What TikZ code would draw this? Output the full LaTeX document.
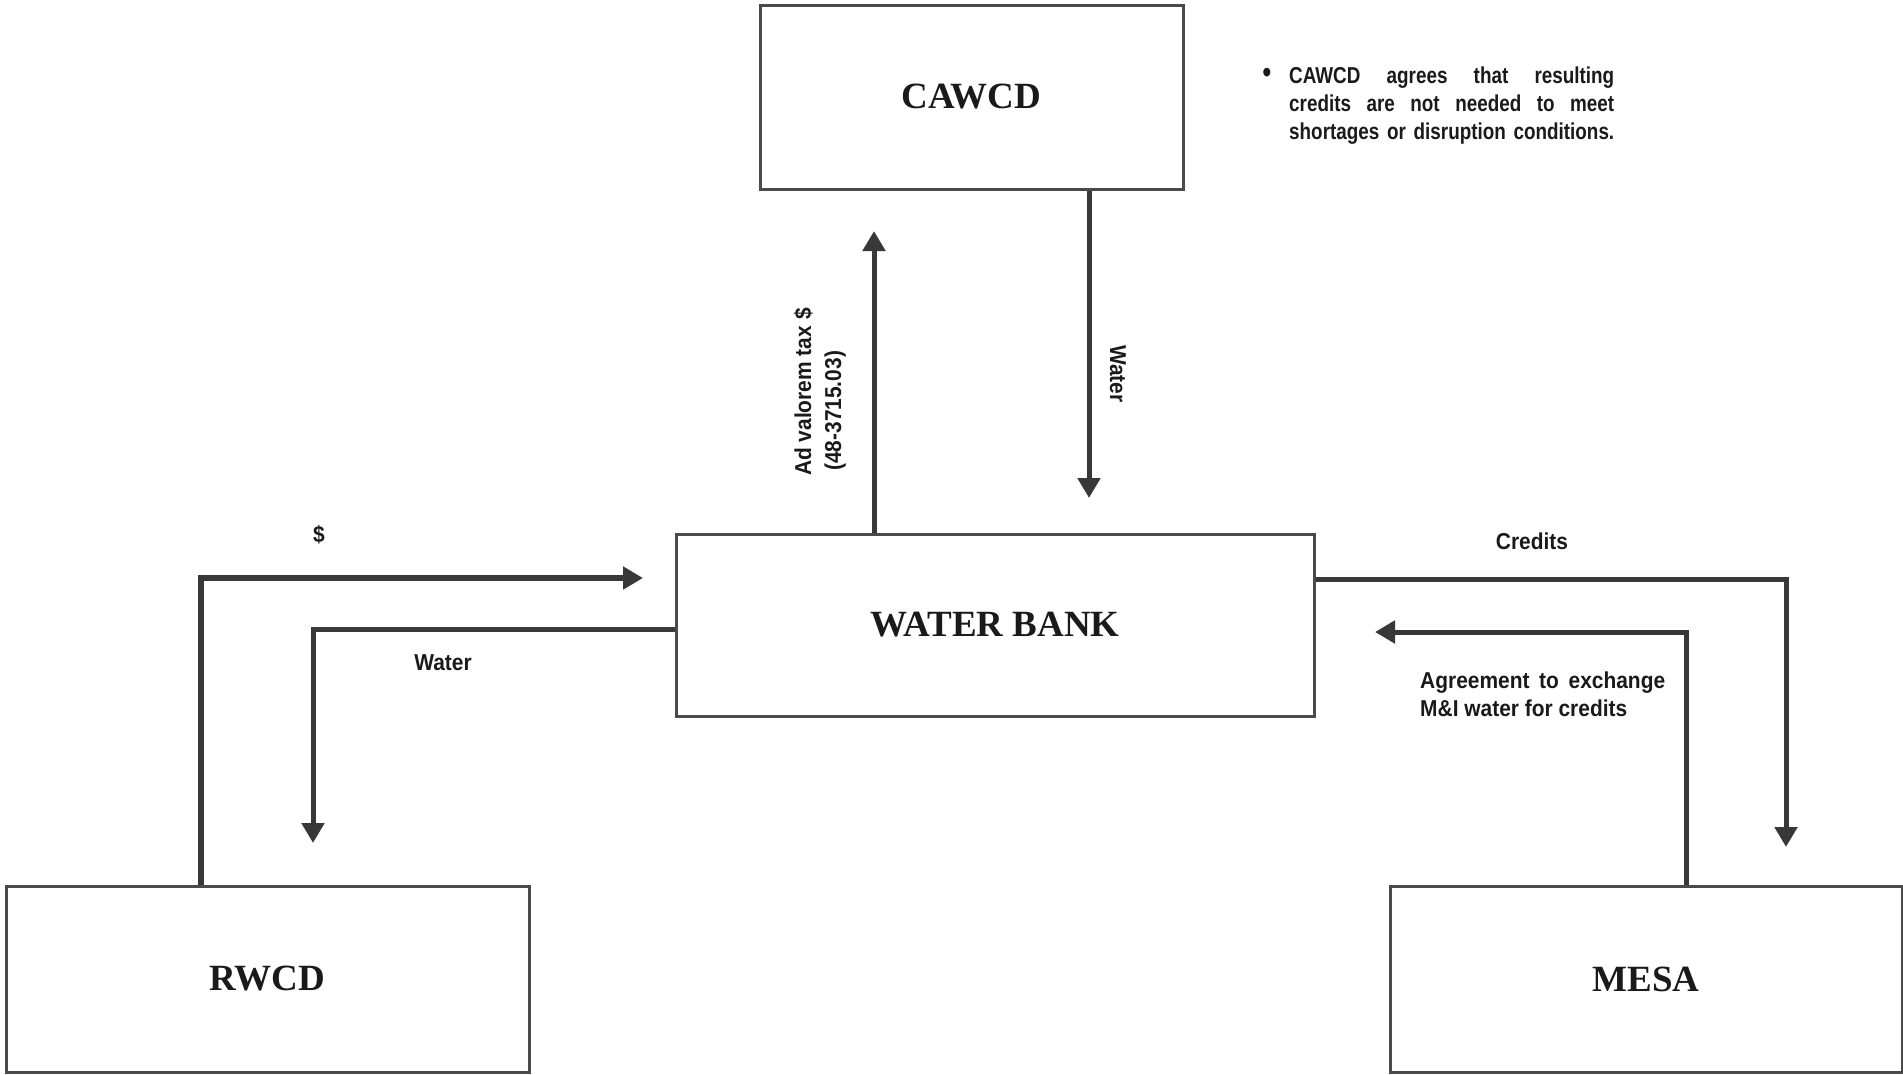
\documentclass[tikz,border=0pt]{standalone}
\usepackage{fontspec}
\setmainfont{Liberation Serif}
\newfontfamily\labfont[FakeStretch=0.91]{Liberation Sans}
\newfontfamily\notefont[FakeStretch=0.82]{Liberation Sans}
\usetikzlibrary{arrows.meta}
\definecolor{boxline}{HTML}{4A4A4A}
\definecolor{flowline}{HTML}{383838}
\definecolor{ink}{HTML}{1A1A1A}
\tikzset{
  entity/.style={draw=boxline, line width=3pt, rectangle, fill=white, inner sep=0pt,
    font=\fontsize{37}{40}\selectfont\bfseries, text=ink},
  flow/.style={draw=flowline, line width=5pt, line join=miter,
    -{Triangle[length=20pt,width=22pt]}},
  lab/.style={font=\labfont\bfseries\fontsize{23}{28}\selectfont, text=ink, inner sep=0pt},
  notetext/.style={font=\notefont\bfseries\fontsize{23}{28}\selectfont, text=ink, inner sep=0pt},
}
\begin{document}
\begin{tikzpicture}[x=1pt,y=-1pt]
\useasboundingbox[fill=white] (0,0) rectangle (1903,1074);

% entities
\node[entity, minimum width=423pt, minimum height=184pt] (cawcd) at (971.5,97) {CAWCD};
\node[entity, minimum width=638pt, minimum height=182pt] (bank) at (995,625) {WATER BANK};
\node[entity, minimum width=523pt, minimum height=186pt] (rwcd) at (267.5,979) {RWCD};
\node[entity, minimum width=512pt, minimum height=186pt] (mesa) at (1646,979) {MESA};

% routing points
\coordinate (sCorner) at (201,578);
\coordinate (sTip) at (643,578);
\coordinate (wCorner) at (313,629);
\coordinate (wTip) at (313,843);
\coordinate (cCorner) at (1786,579);
\coordinate (cTip) at (1786,847);
\coordinate (aCorner) at (1686,632);
\coordinate (aTip) at (1375,632);
\coordinate (advTip) at (874,231);
\coordinate (wtTip) at (1089,498);

% connectors
\draw[flow, line width=6.5pt] (sCorner |- rwcd.north) -- (sCorner) -- (sTip);
\draw[flow] (wCorner -| bank.west) -- (wCorner) -- (wTip);
\draw[flow] (cCorner -| bank.east) -- (cCorner) -- (cTip);
\draw[flow] (aCorner |- mesa.north) -- (aCorner) -- (aTip);
\draw[flow] (advTip |- bank.north) -- (advTip);
\draw[flow] (wtTip |- cawcd.south) -- (wtTip);

% labels
\node[lab] (lDollar) at (319,535) {\$};
\node[lab] (lWaterL) at (443,663) {Water};
\node[lab] (lCredits) at (1532,541) {Credits};
\node[lab, anchor=base west] (lAgr1) at (1420,688) {\hbox to 245pt{Agreement\hfill to\hfill exchange}};
\node[lab, anchor=base west] (lAgr2) at (1420,716) {M\&I water for credits};
\node[lab, rotate=90, anchor=base west] (lAdv1) at (811,476) {Ad valorem tax \$};
\node[lab, rotate=90, anchor=base west] (lAdv2) at (841,471) {(48-3715.03)};
\node[lab, rotate=-90] (lWaterC) at (1118,374) {Water};

% note
\node[notetext, font=\notefont\bfseries\fontsize{30}{30}\selectfont] (bullet) at (1267,75) {•};
\node[notetext, anchor=base west] (note1) at (1289,83) {\hbox to 325pt{CAWCD\hfill agrees\hfill that\hfill resulting}};
\node[notetext, anchor=base west] (note2) at (1289,111) {\hbox to 325pt{credits\hfill are\hfill not\hfill needed\hfill to\hfill meet}};
\node[notetext, anchor=base west] (note3) at (1289,139) {\hbox to 325pt{shortages\hfill or\hfill disruption\hfill conditions.}};
\end{tikzpicture}
\end{document}
